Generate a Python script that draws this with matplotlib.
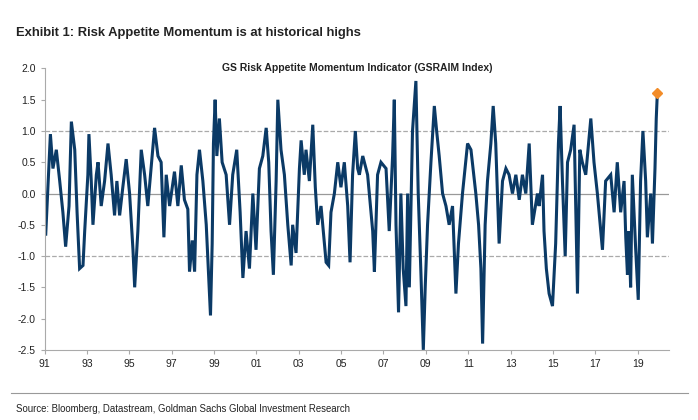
import numpy as np
import matplotlib.pyplot as plt
from matplotlib.lines import Line2D

# decimal years and index levels (turning points)
years = [
    1991.05, 1991.27, 1991.39, 1991.55, 1991.71, 1991.86, 1991.99, 1992.15, 1992.26, 1992.42,
    1992.53, 1992.65, 1992.81, 1992.89, 1993.04, 1993.09, 1993.20, 1993.28, 1993.44, 1993.52,
    1993.67, 1993.83, 1993.99, 1994.14, 1994.30, 1994.41, 1994.54, 1994.69, 1994.85, 1995.01,
    1995.17, 1995.25, 1995.40, 1995.56, 1995.72, 1995.87, 1996.19, 1996.35, 1996.50, 1996.63,
    1996.74, 1996.90, 1997.13, 1997.29, 1997.45, 1997.60, 1997.76, 1997.84, 1997.97, 1998.08,
    1998.19, 1998.31, 1998.47, 1998.63, 1998.74, 1998.83, 1998.91, 1998.97, 1999.05, 1999.13,
    1999.25, 1999.38, 1999.57, 1999.73, 1999.88, 2000.07, 2000.23, 2000.36, 2000.51, 2000.67,
    2000.83, 2000.98, 2001.14, 2001.30, 2001.46, 2001.58, 2001.69, 2001.80, 2001.93, 2002.01,
    2002.16, 2002.32, 2002.48, 2002.64, 2002.71, 2002.87, 2003.03, 2003.11, 2003.26, 2003.34,
    2003.50, 2003.66, 2003.78, 2003.89, 2004.05, 2004.21, 2004.29, 2004.41, 2004.52, 2004.68,
    2004.84, 2004.99, 2005.15, 2005.31, 2005.42, 2005.54, 2005.67, 2005.78, 2005.86,
    2006.02, 2006.25, 2006.49, 2006.57, 2006.72, 2006.88, 2007.12, 2007.27, 2007.43, 2007.51,
    2007.59, 2007.71, 2007.82, 2007.93, 2008.06, 2008.14, 2008.22, 2008.37, 2008.53, 2008.64,
    2008.77, 2008.88, 2008.97, 2009.08, 2009.24, 2009.40, 2009.51, 2009.63, 2009.79, 2009.95,
    2010.10, 2010.26, 2010.42, 2010.54, 2010.73, 2010.97, 2011.13, 2011.36, 2011.49, 2011.60,
    2011.68, 2011.80, 2011.91, 2012.07, 2012.18, 2012.30, 2012.46, 2012.62, 2012.78, 2012.93,
    2013.09, 2013.25, 2013.41, 2013.56, 2013.72, 2013.88, 2014.03, 2014.27, 2014.35, 2014.51,
    2014.58, 2014.69, 2014.82, 2014.98, 2015.13, 2015.26, 2015.34, 2015.45, 2015.58, 2015.69,
    2015.84, 2016.00, 2016.11, 2016.16, 2016.27, 2016.39, 2016.55, 2016.79, 2016.94, 2017.10,
    2017.34, 2017.49, 2017.73, 2017.89, 2018.04, 2018.20, 2018.36, 2018.44, 2018.52, 2018.59,
    2018.67, 2018.75, 2018.91, 2019.03, 2019.14, 2019.25, 2019.38, 2019.46, 2019.62, 2019.70,
    2019.82, 2019.88, 2019.93,
]
gsraim = [
    -0.65, 0.95, 0.4, 0.7, 0.2, -0.3, -0.85, -0.2, 1.15, 0.7,
    -0.3, -1.2, -1.15, -0.6, 0.3, 0.95, 0.2, -0.5, 0.3, 0.5,
    -0.2, 0.2, 0.8, 0.3, -0.35, 0.2, -0.35, 0.1, 0.55, 0.0,
    -0.9, -1.5, -0.6, 0.7, 0.3, -0.2, 1.05, 0.6, 0.5, -0.7,
    0.3, -0.2, 0.35, -0.2, 0.45, -0.1, -0.25, -1.25, -0.75, -1.25,
    0.3, 0.7, 0.2, -0.5, -1.3, -1.95, -0.8, 0.8, 1.5, 0.6,
    1.2, 0.5, 0.3, -0.5, 0.3, 0.7, -0.3, -1.35, -0.6, -1.2,
    0.0, -0.9, 0.4, 0.6, 1.05, 0.5, -0.6, -1.3, 0.2, 1.5,
    0.7, 0.3, -0.5, -1.15, -0.5, -0.95, 0.4, 0.85, 0.3, 0.7,
    0.2, 1.1, 0.1, -0.5, -0.2, -0.8, -1.1, -1.15, -0.3, 0.0,
    0.5, 0.1, 0.5, -0.2, -1.1, 0.3, 1.0, 0.4, 0.3,
    0.6, 0.3, -0.6, -1.25, 0.3, 0.5, 0.4, -0.6, 0.6, 1.5,
    -0.5, -1.9, 0.0, -1.2, -1.8, 0.0, -1.5, 1.0, 1.8, 0.0,
    -1.3, -2.5, -1.5, -0.5, 0.5, 1.4, 1.0, 0.6, 0.0, -0.2,
    -0.5, -0.2, -1.6, -0.8, 0.0, 0.8, 0.7, 0.0, -0.5, -1.2,
    -2.4, -0.5, 0.2, 0.8, 1.4, 0.8, -0.8, 0.2, 0.4, 0.3,
    0.0, 0.3, -0.1, 0.3, 0.0, 0.8, -0.5, 0.0, -0.2, 0.3,
    -0.6, -1.2, -1.6, -1.8, -0.8, 0.8, 1.4, 0.2, -1.0, 0.5,
    0.7, 1.1, -0.7, -1.6, 0.7, 0.5, 0.3, 1.2, 0.5, 0.0,
    -0.9, 0.2, 0.3, -0.3, 0.5, -0.3, 0.2, -0.7, -1.3, -0.6,
    -1.5, 0.3, -0.9, -1.7, 0.2, 1.0, 0.2, -0.7, 0.0, -0.8,
    0.4, 1.2, 1.6,
]
tick_years = list(range(1991, 2020, 2))
tick_labels = [f"{y % 100:02d}" for y in tick_years]

fig = plt.figure(figsize=(6.98, 4.2), dpi=100)
plt.rcParams['font.family'] = ['Liberation Sans', 'DejaVu Sans']

fig.text(0.023, 0.915, "Exhibit 1: Risk Appetite Momentum is at historical highs",
         fontsize=9.4, fontweight="bold", color="#222222")
fig.text(0.023, 0.02, "Source: Bloomberg, Datastream, Goldman Sachs Global Investment Research",
         fontsize=6.9, color="#222222")
fig.add_artist(Line2D([0.016, 0.985], [0.065, 0.065], color="#999999", lw=0.8))

ax = fig.add_axes([0.064, 0.167, 0.895, 0.67])
ax.plot(years, gsraim, color="#0b3a66", lw=2.2, solid_joinstyle="miter")
ax.plot(years[-1], gsraim[-1], marker="D", color="#f28c28", ms=5)

for lvl in (1.0, -1.0):
    ax.axhline(lvl, color="#aaaaaa", ls="--", lw=0.9, zorder=0)
ax.axhline(0, color="#999999", lw=0.9, zorder=0)

ax.set_xlim(1991, 2020.5)
ax.set_ylim(-2.5, 2.0)
ax.set_yticks(np.arange(-2.5, 2.01, 0.5))
ax.set_yticklabels([f"{v:.1f}" for v in np.arange(-2.5, 2.01, 0.5)], fontsize=7.5)
ax.set_xticks(tick_years)
ax.set_xticklabels(tick_labels, fontsize=7.5)
for s in ("top", "right"):
    ax.spines[s].set_visible(False)
for s in ("left", "bottom"):
    ax.spines[s].set_color("#aaaaaa")
ax.tick_params(colors="#aaaaaa", labelcolor="#222222", length=3)
ax.set_title("GS Risk Appetite Momentum Indicator (GSRAIM Index)",
             fontsize=7.5, fontweight="bold", y=0.96, color="#222222")

fig.savefig("out.png", dpi=100)
